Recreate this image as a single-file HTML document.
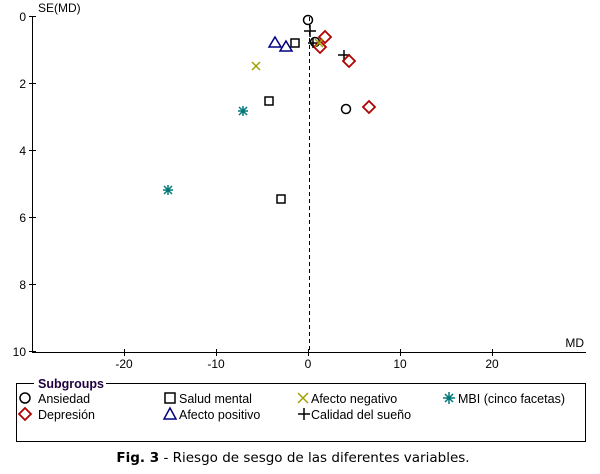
<!DOCTYPE html>
<html><head><meta charset="utf-8"><style>
body{margin:0;background:#fff;width:600px;height:469px;overflow:hidden}
text{font-family:"Liberation Sans",sans-serif;font-size:12px}
.lg{font-size:12.5px}
</style></head><body>
<svg width="600" height="469" xmlns="http://www.w3.org/2000/svg">
<g stroke="#000" stroke-width="1" fill="none">
<line x1="32.5" y1="16" x2="32.5" y2="352"/>
<line x1="32" y1="352.5" x2="586" y2="352.5"/>
<line x1="29" y1="16.5" x2="36" y2="16.5"/>
<line x1="29" y1="83.5" x2="36" y2="83.5"/>
<line x1="29" y1="150.5" x2="36" y2="150.5"/>
<line x1="29" y1="217.5" x2="36" y2="217.5"/>
<line x1="29" y1="284.5" x2="36" y2="284.5"/>
<line x1="29" y1="351.5" x2="36" y2="351.5"/>
<line x1="124.5" y1="349" x2="124.5" y2="356"/>
<line x1="216.5" y1="349" x2="216.5" y2="356"/>
<line x1="308.5" y1="349" x2="308.5" y2="356"/>
<line x1="400.5" y1="349" x2="400.5" y2="356"/>
<line x1="492.5" y1="349" x2="492.5" y2="356"/>
<line x1="309.5" y1="17" x2="309.5" y2="352" stroke-dasharray="4,3"/>
</g>
<g text-anchor="end">
<text x="26" y="21">0</text><text x="26" y="88">2</text><text x="26" y="155">4</text>
<text x="26" y="222">6</text><text x="26" y="289">8</text><text x="26" y="356">10</text>
</g>
<text x="38" y="12">SE(MD)</text>
<text x="584" y="347" text-anchor="end">MD</text>
<g text-anchor="middle">
<text x="124" y="368">-20</text><text x="216" y="368">-10</text><text x="308" y="368">0</text>
<text x="400" y="368">10</text><text x="492" y="368">20</text>
</g>
<g stroke="#000" stroke-width="1.5" fill="none">
<circle cx="308" cy="20" r="4.5"/><circle cx="315" cy="42" r="4.5"/><circle cx="346" cy="109" r="4.5"/>
<rect x="291" y="39" width="8" height="8"/><rect x="265" y="97" width="8" height="8"/><rect x="277" y="195" width="8" height="8"/>
<path d="M310 25v12M304 31h12M344 50v11M338 55h12M313 38v10M308 43h10"/>
</g>
<g stroke="#b00000" stroke-width="1.8" fill="none">
<path d="M325 31l6 6-6 6-6-6z"/><path d="M320 41l6 6-6 6-6-6z"/><path d="M349 55l6 6-6 6-6-6z"/><path d="M369 101l6 6-6 6-6-6z"/>
</g>
<g stroke="#000080" stroke-width="1.5" fill="none">
<path d="M275 37l6 10h-12z"/><path d="M286 41l6 10h-12z"/>
</g>
<g stroke="#a0a000" stroke-width="1.5">
<path d="M252 62l8 8M260 62l-8 8M315 39l8 8M323 39l-8 8"/>
</g>
<g stroke="#007878" stroke-width="1.5">
<path d="M238 111h10M243 106v10M239 107l8 8M247 107l-8 8"/>
<path d="M163 190h10M168 185v10M164 186l8 8M172 186l-8 8"/>
</g>
<rect x="16.5" y="383.5" width="569" height="58" fill="none" stroke="#000"/>
<rect x="34" y="377" width="72" height="12" fill="#fff"/>
<text x="38" y="388" font-weight="bold" fill="#200040" class="lg">Subgroups</text>
<g stroke="#000" stroke-width="1.5" fill="none">
<circle cx="25" cy="398" r="5"/>
<rect x="165" y="393" width="10" height="10"/>
<path d="M304 408v12M298 414h12"/>
</g>
<path d="M25 408l6 6-6 6-6-6z" stroke="#b00000" stroke-width="1.8" fill="none"/>
<path d="M170 408l6 11h-12z" stroke="#000080" stroke-width="1.5" fill="none"/>
<path d="M298 393l10 10M308 393l-10 10" stroke="#a0a000" stroke-width="1.5"/>
<path d="M443 398h12M449 392v12M445 394l8 8M453 394l-8 8" stroke="#007878" stroke-width="1.5"/>
<text x="38" y="403" class="lg">Ansiedad</text>
<text x="38" y="419" class="lg">Depresión</text>
<text x="179" y="403" class="lg">Salud mental</text>
<text x="179" y="419" class="lg">Afecto positivo</text>
<text x="311" y="403" class="lg">Afecto negativo</text>
<text x="311" y="419" class="lg">Calidad del sueño</text>
<text x="458" y="403" class="lg">MBI (cinco facetas)</text>
<text x="293" y="462" text-anchor="middle" style="font-family:'DejaVu Sans',sans-serif;font-size:13.5px"><tspan font-weight="bold">Fig. 3</tspan> - Riesgo de sesgo de las diferentes variables.</text>
</svg>
</body></html>
